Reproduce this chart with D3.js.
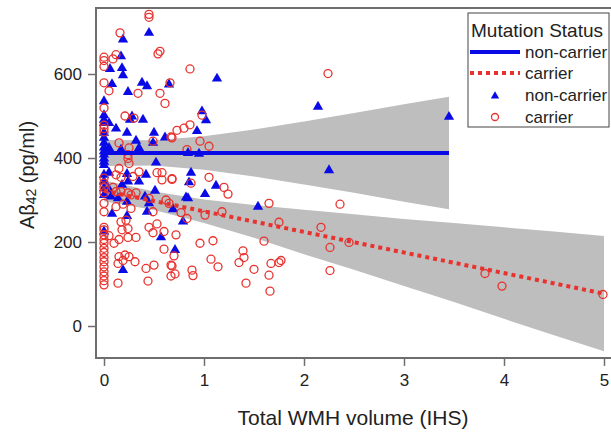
<!DOCTYPE html>
<html>
<head>
<meta charset="utf-8">
<script src="https://cdn.jsdelivr.net/npm/d3@7"></script>
<style>
  body { margin: 0; background: #fff; }
  svg { display: block; font-family: "Liberation Sans", Arial, sans-serif; }
</style>
</head>
<body>
<svg id="chart" width="611" height="433"></svg>
<script>
// non-carrier points (blue triangles)
const ncX = [0.45,0.19,0.17,0.06,0.18,0.19,0.08,0.38,0.43,0.24,0.65,0,0,0,0,0.05,0.28,0.26,0.39,0.12,0.23,0,0,0,0,0,0,0.50,0.61,0.32,0.49,0.05,0.35,0.35,0.17,
  1.13,0.98,1.02,0.93,0.84,0.95,2.14,2.25,1.12,1.01,1.54,3.45,
  0.87,0.85,0.82,0.84,0.69,0.79,0.71,
  0,0,0,0.05,0,0,0,0,0.23,0.42,0.52,0.18,0.24,0.35,0.51,0.05,0.07,0.14,0.23,0.41,0.45,0.43,0.08,0.23,0.57,0,0.19];
const ncY = [698,682,642,612,614,597,576,579,571,557,575,535,502,491,483,483,499,491,491,470,460,460,448,436,425,416,408,460,449,441,436,424,424,414,420,
  589,511,490,464,412,410,522,371,334,314,284,498,
  365,342,306,304,278,249,181,
  399,391,383,365,360,344,328,312,362,360,389,336,344,344,322,325,308,304,296,308,292,272,267,262,211,225,133];

// carrier points (red circles)
const cX = [0.45,0.45,0.16,0,0,0,0.12,0.09,0.54,0.56,0,0.05,0.34,0.56,0.61,0.66,0,0.21,0.30,0,0,0,0.15,0.25,0.67,0.49,0.24,
  0.86,0.98,0.73,0.80,0.86,0.68,0.96,1.05,0.83,
  2.24,1.05,1.20,1.24,1.65,2.36,1.18,1.01,
  1.75,2.17,2.26,2.45,1.09,0.96,1.60,1.39,1.40,1.35,1.07,1.14,1.67,1.75,1.77,1.50,1.65,1.42,1.66,2.26,
  3.81,3.98,4.99,
  0.87,0.68,0.77,0.83,0.72,0.70,0.68,0.71,0.88,0.89,
  0.24,0.25,0.15,0.12,0.17,0.29,0.35,0.58,0.68,0,0,0,0,0.09,0.12,0.17,0.24,0.27,0.32,0.45,0.62,0.65,0,0,0.12,0.19,0.27,0.49,0.17,0.22,
  0,0,0,0,0,0,0,0,0,0,0,0,0,0,
  0.05,0.18,0.24,0.45,0.53,0.49,0.60,0.10,0.15,0.24,0.32,0.60,0.15,0.21,0.25,0.19,0.14,0.31,0.42,0.50,0.14,0.44,0.67,0.67,0.53,0.58];
const cY = [735,742,698,640,632,618,646,636,648,654,579,560,554,554,530,579,519,500,495,478,470,462,436,424,450,440,408,
  612,502,466,471,479,448,440,428,420,
  601,354,330,314,292,290,272,264,
  247,235,187,199,203,197,202,179,163,151,159,141,149,151,156,135,121,102,83,132,
  125,95,75,
  340,351,270,256,217,167,143,124,133,120,
  399,387,375,360,354,356,367,365,349,352,340,330,317,330,320,320,317,312,317,304,300,292,292,272,284,290,280,272,248,252,
  235,229,217,206,197,185,175,163,153,141,129,119,108,98,
  215,229,232,235,243,222,225,197,206,211,211,183,165,169,165,156,149,153,137,145,102,107,119,145,365,348];

// fitted lines and confidence bands
const ncFitX = [0, 3.45];
const ncFitY = [412, 412];
const ncBandX = [0, 0.5, 1, 1.5, 2, 2.5, 3, 3.45];
const ncBandLo = [381, 382, 372, 356, 337, 317, 296, 278];
const ncBandHi = [443, 442, 452, 468, 487, 507, 528, 546];

const cFitX = [0, 5];
const cFitY = [322, 77];
const cBandX = [0, 0.5, 1, 1.5, 2, 2.5, 3, 3.5, 4, 4.5, 5];
const cBandLo = [297, 276, 245, 210, 171, 134, 95, 57, 17, -22, -60];
const cBandHi = [347, 320, 301, 288, 277, 266, 255, 245, 235, 225, 214];

const xTicks = [0, 1, 2, 3, 4, 5];
const yTicks = [0, 200, 400, 600];

const blue = '#0a0ae6';
const red = '#e8322e';

const svg = d3.select('#chart');
const x = d3.scaleLinear().domain([0, 5]).range([104, 604]);
const y = d3.scaleLinear().domain([0, 600]).range([326, 74]);

const frameL = x(-0.08), frameT = y(757), frameB = y(-76);

// bands
const area = d3.area().x(d => x(d[0])).y0(d => y(d[1])).y1(d => y(d[2]));
svg.append('path')
  .datum(ncBandX.map((v, i) => [v, ncBandLo[i], ncBandHi[i]]))
  .attr('d', area).attr('fill', '#bebebe');
svg.append('path')
  .datum(cBandX.map((v, i) => [v, cBandLo[i], cBandHi[i]]))
  .attr('d', area).attr('fill', '#bebebe');

// points
const tri = d3.symbol().type(d3.symbolTriangle).size(46);
svg.append('g').selectAll('path')
  .data(ncX.map((v, i) => [v, ncY[i]]))
  .enter().append('path')
  .attr('d', tri)
  .attr('transform', d => `translate(${x(d[0])},${y(d[1])})`)
  .attr('fill', blue);

svg.append('g').selectAll('circle')
  .data(cX.map((v, i) => [v, cY[i]]))
  .enter().append('circle')
  .attr('cx', d => x(d[0]))
  .attr('cy', d => y(d[1]))
  .attr('r', 4)
  .attr('fill', 'none')
  .attr('stroke', red)
  .attr('stroke-width', 1.3);

// fit lines
const line = d3.line().x(d => x(d[0])).y(d => y(d[1]));
svg.append('path')
  .datum(ncFitX.map((v, i) => [v, ncFitY[i]]))
  .attr('d', line).attr('stroke', blue).attr('stroke-width', 4).attr('fill', 'none');
svg.append('path')
  .datum(cFitX.map((v, i) => [v, cFitY[i]]))
  .attr('d', line).attr('stroke', red).attr('stroke-width', 4)
  .attr('stroke-dasharray', '4,4').attr('fill', 'none');

// frame
svg.append('path')
  .attr('d', `M612,${frameT}H${frameL}V${frameB}H612`)
  .attr('fill', 'none').attr('stroke', '#6e6e6e').attr('stroke-width', 2);

// axes
const xAxis = svg.append('g').attr('transform', `translate(0,${frameB})`)
  .call(d3.axisBottom(x).tickValues(xTicks).tickFormat(d3.format('d')).tickSize(8).tickPadding(8));
const yAxis = svg.append('g').attr('transform', `translate(${frameL},0)`)
  .call(d3.axisLeft(y).tickValues(yTicks).tickFormat(d3.format('d')).tickSize(8).tickPadding(6));
[xAxis, yAxis].forEach(a => {
  a.select('.domain').remove();
  a.selectAll('line').attr('stroke', '#6e6e6e').attr('stroke-width', 1.5);
  a.selectAll('text').attr('font-size', 17).attr('fill', '#222')
    .attr('font-family', '"Liberation Sans", Arial, sans-serif');
});

// axis titles
svg.append('text')
  .attr('x', 353).attr('y', 425)
  .attr('text-anchor', 'middle').attr('font-size', 21).attr('fill', '#222')
  .text('Total WMH volume (IHS)');

const yt = svg.append('text')
  .attr('transform', 'translate(34,175) rotate(-90)')
  .attr('text-anchor', 'middle').attr('font-size', 20).attr('fill', '#222');
yt.append('tspan').text('Aβ');
yt.append('tspan').attr('font-size', 14).attr('dy', 2).text('42');
yt.append('tspan').attr('dy', -2).text(' (pg/ml)');

// legend
const lg = svg.append('g');
lg.append('rect').attr('x', 468).attr('y', 13).attr('width', 141).attr('height', 114)
  .attr('fill', '#fff').attr('stroke', '#444').attr('stroke-width', 1);
lg.append('text').attr('x', 471).attr('y', 37).attr('font-size', 19).attr('fill', '#222')
  .text('Mutation Status');
lg.append('line').attr('x1', 470).attr('x2', 520).attr('y1', 52).attr('y2', 52)
  .attr('stroke', blue).attr('stroke-width', 4);
lg.append('line').attr('x1', 470).attr('x2', 520).attr('y1', 73).attr('y2', 73)
  .attr('stroke', red).attr('stroke-width', 4).attr('stroke-dasharray', '4,4');
lg.append('path').attr('d', d3.symbol().type(d3.symbolTriangle).size(30))
  .attr('transform', 'translate(495,96)').attr('fill', blue);
lg.append('circle').attr('cx', 495).attr('cy', 117).attr('r', 3.5)
  .attr('fill', 'none').attr('stroke', red).attr('stroke-width', 1.3);
const labels = ['non-carrier', 'carrier', 'non-carrier', 'carrier'];
const rowsY = [52, 73, 95, 117];
lg.selectAll('text.item').data(labels).enter().append('text')
  .attr('class', 'item')
  .attr('x', 525).attr('y', (d, i) => rowsY[i] + 6)
  .attr('font-size', 17).attr('fill', '#222')
  .text(d => d);
</script>
</body>
</html>
